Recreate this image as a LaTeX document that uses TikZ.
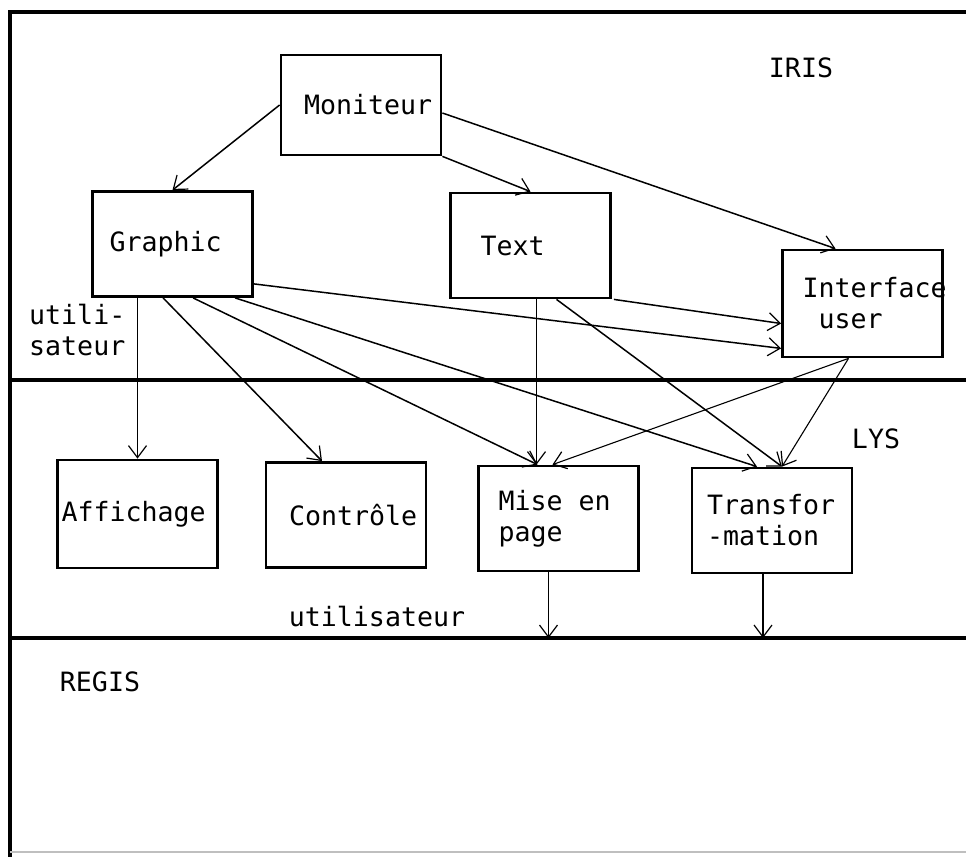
\documentclass[tikz,border=0pt]{standalone}
\usepackage{fontspec}
\setmainfont{DejaVu Sans Mono}
\usetikzlibrary{arrows.meta}
\hyphenpenalty=10000
\exhyphenpenalty=10000
\newcommand{\boxfont}{\fontsize{26.6pt}{31pt}\selectfont}
\newcommand{\gap}{\hspace{0.602em}}

\begin{document}
\begin{tikzpicture}[x=1pt, y=-1pt,
    blk/.style={draw, line width=2.8pt, minimum height=105pt, inner xsep=#1pt, text width=160pt-2*#1pt, align=left, font=\boxfont},
    lab/.style={font=\boxfont, inner sep=0pt},
    frame/.style={line width=4pt},
    arr/.style={-{Straight Barb[length=12pt, width=18pt, line width=1.2pt]}, line width=1.5pt},
    thinarr/.style={arr, line width=1.1pt}]
    \useasboundingbox (0,0) rectangle (966,857);
    \fill[white] (0,0) rectangle (966,857);
    \coordinate (tl) at (10,12);
    \coordinate (irisbot) at (10,380);
    \coordinate (regtop) at (10,638);
    \draw[frame] (966,12) -- (tl) -- (10,857);
    \draw[frame] (irisbot) -- (966,380);
    \draw[frame] (regtop) -- (966,638);
    \draw[line width=2pt, black!25] (10,852) -- (966,852);
    \node[lab] (iris) at (801,68) {IRIS};
    \node[lab] (lys) at (876,439) {LYS};
    \node[lab] (regis) at (100,682) {REGIS};
    \node[lab, align=left, anchor=west] (usr) at (29,330) {utili-\\sateur};
    \node[lab] (usrlys) at (377,617) {utilisateur};
    \node[blk=23, minimum height=100pt] (mon) at (361,105) {\mbox{Moniteur}};
    \node[blk=17] (gra) at (172.5,244) {Graphic};
    \node[blk=30] (txt) at (530.5,245.5) {Text};
    \node[blk=20, minimum height=107pt] (iface) at (862.5,303.5) {\mbox{Interface}\\\gap user};
    \node[blk=4, minimum height=108pt] (aff) at (137.5,514) {Affichage};
    \node[blk=23] (ctl) at (346,515) {\mbox{Contrôle}};
    \node[blk=20] (mep) at (558.5,518.5) {Mise\gap en\\page};
    \node[blk=15] (trf) at (772,520.5) {Transfor\\-mation};
    \draw[arr] (mon.west) -- (gra.north);
    \draw[arr] (mon.south east) -- (txt.north);
    \draw[arr] ([yshift=-8pt]mon.east) -- ([xshift=-27pt]iface.north);
    \draw[arr] ([yshift=14pt]gra.south east) -- ([yshift=10pt]iface.south west);
    \draw[arr] ([xshift=2pt]txt.south east) -- ([yshift=-20pt]iface.west);
    \draw[arr] (gra.south -| aff.north) -- (aff.north);
    \draw[arr] ([xshift=72pt]gra.south west) -- ([xshift=-24pt]ctl.north);
    \draw[arr] ([xshift=102pt]gra.south west) -- ([xshift=-21pt]mep.north);
    \draw[arr] ([xshift=144pt]gra.south west) -- ([xshift=-15pt]trf.north);
    \draw[arr] ([xshift=-22pt]mep.north |- txt.south) -- ([xshift=-22pt]mep.north);
    \draw[arr] ([xshift=26pt]txt.south) -- ([xshift=10pt]trf.north);
    \draw[thinarr] ([xshift=-14pt]iface.south) -- ([xshift=-6pt]mep.north);
    \draw[thinarr] ([xshift=-14pt]iface.south) -- ([xshift=10pt]trf.north);
    \draw[arr] ([xshift=-10pt]mep.south) -- ([xshift=-10pt]mep.south |- regtop);
    \draw[arr] ([xshift=-9pt]trf.south) -- ([xshift=-9pt]trf.south |- regtop);
\end{tikzpicture}
\end{document}
